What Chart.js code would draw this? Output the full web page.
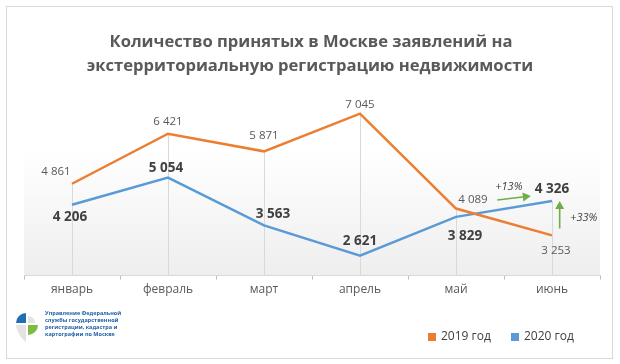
<!DOCTYPE html>
<html>
<head>
<meta charset="utf-8">
<script src="https://cdn.jsdelivr.net/npm/chart.js@4.4.0/dist/chart.umd.min.js"></script>
<style>
  html, body { margin: 0; padding: 0; background: #fff; }
  #wrap { width: 620px; height: 364px; }
</style>
</head>
<body>
<div id="wrap"><canvas id="chart" width="620" height="364"></canvas></div>
<script>
var months = ['январь', 'февраль', 'март', 'апрель', 'май', 'июнь'];
var values2019 = [4861, 6421, 5871, 7045, 4089, 3253];
var values2020 = [4206, 5054, 3563, 2621, 3829, 4326];
var yMin = 2000;
var yMax = 8000;
var titleLines = ['Количество принятых в Москве заявлений на', 'экстерриториальную регистрацию недвижимости'];
var logoLines = ['Управление Федеральной', 'службы государственной', 'регистрации, кадастра и', 'картографии по Москве'];

var orange = '#ED7D31';
var blue = '#5B9BD5';
var green = '#70AD47';
var fontFamily = '"Open Sans", "DejaVu Sans", sans-serif';

// label offsets in px from the point (dx, dy)
var off2019 = [[-16, -12], [0, -12], [0, -16], [0, -9], [17, -9], [4, 15]];
var off2020 = [[-2, 12], [-2, -9], [9, -11], [0, -15], [9, 19], [0, -12]];

function fmt(n) {
    return String(n).replace(/\B(?=(\d{3})+(?!\d))/g, ' ');
}

function arrow(ctx, x1, y1, x2, y2) {
    var a = Math.atan2(y2 - y1, x2 - x1);
    var h = 8;
    ctx.beginPath();
    ctx.moveTo(x1, y1);
    ctx.lineTo(x2 - Math.cos(a) * h * 0.8, y2 - Math.sin(a) * h * 0.8);
    ctx.stroke();
    ctx.beginPath();
    ctx.moveTo(x2, y2);
    ctx.lineTo(x2 - h * Math.cos(a) + 4.5 * Math.sin(a), y2 - h * Math.sin(a) - 4.5 * Math.cos(a));
    ctx.lineTo(x2 - h * Math.cos(a) - 4.5 * Math.sin(a), y2 - h * Math.sin(a) + 4.5 * Math.cos(a));
    ctx.closePath();
    ctx.fill();
}

function wedge(ctx, cx, cy, r, a0, a1, color) {
    ctx.fillStyle = color;
    ctx.beginPath();
    ctx.moveTo(cx, cy);
    ctx.arc(cx, cy, r, a0, a1);
    ctx.closePath();
    ctx.fill();
}

var decor = {
    id: 'decor',
    beforeDraw: function(chart) {
        var ctx = chart.ctx;
        var area = chart.chartArea;
        ctx.save();
        ctx.fillStyle = '#fff';
        ctx.fillRect(0, 0, chart.width, chart.height);
        // outer frame
        ctx.strokeStyle = '#d9d9d9';
        ctx.lineWidth = 1;
        ctx.strokeRect(6.5, 6.5, 606, 352);
        // plot background
        var g = ctx.createLinearGradient(0, area.top, 0, area.bottom);
        g.addColorStop(0, '#ffffff');
        g.addColorStop(0.35, '#ffffff');
        g.addColorStop(1, '#eeeeee');
        ctx.fillStyle = g;
        ctx.fillRect(area.left, area.top, area.right - area.left, area.bottom - area.top);
        // title
        ctx.fillStyle = '#595959';
        ctx.font = 'bold 16.6px ' + fontFamily;
        ctx.textAlign = 'center';
        ctx.textBaseline = 'middle';
        ctx.fillText(titleLines[0], 311, 42);
        ctx.fillText(titleLines[1], 310, 66);
        ctx.restore();
    },
    beforeDatasetsDraw: function(chart) {
        // drop lines
        var ctx = chart.ctx;
        var x = chart.scales.x, y = chart.scales.y;
        ctx.save();
        ctx.strokeStyle = '#d9d9d9';
        ctx.lineWidth = 1;
        for (var i = 0; i < months.length; i++) {
            var px = Math.round(x.getPixelForValue(i)) + 0.5;
            var top = y.getPixelForValue(Math.max(values2019[i], values2020[i]));
            ctx.beginPath();
            ctx.moveTo(px, top);
            ctx.lineTo(px, chart.chartArea.bottom);
            ctx.stroke();
        }
        ctx.restore();
    },
    afterDatasetsDraw: function(chart) {
        var ctx = chart.ctx;
        var x = chart.scales.x, y = chart.scales.y;
        ctx.save();
        ctx.textAlign = 'center';
        ctx.textBaseline = 'middle';
        for (var i = 0; i < months.length; i++) {
            var px = x.getPixelForValue(i);
            ctx.fillStyle = '#595959';
            ctx.font = '11.5px ' + fontFamily;
            ctx.fillText(fmt(values2019[i]), px + off2019[i][0], y.getPixelForValue(values2019[i]) + off2019[i][1]);
            ctx.fillStyle = '#404040';
            ctx.font = 'bold 13.5px ' + fontFamily;
            ctx.fillText(fmt(values2020[i]), px + off2020[i][0], y.getPixelForValue(values2020[i]) + off2020[i][1]);
        }
        // growth arrows
        ctx.strokeStyle = green;
        ctx.fillStyle = green;
        ctx.lineWidth = 1.6;
        arrow(ctx, x.getPixelForValue(4.43), y.getPixelForValue(4357), x.getPixelForValue(4.78), y.getPixelForValue(4479));
        arrow(ctx, x.getPixelForValue(5.08), y.getPixelForValue(3469), x.getPixelForValue(5.08), y.getPixelForValue(4326));
        ctx.fillStyle = '#404040';
        ctx.font = 'italic 11px ' + fontFamily;
        ctx.fillText('+13%', x.getPixelForValue(4.55), y.getPixelForValue(4755));
        ctx.fillText('+33%', x.getPixelForValue(5.33), y.getPixelForValue(3806));
        ctx.restore();
    },
    afterDraw: function(chart) {
        var ctx = chart.ctx;
        ctx.save();
        // legend
        ctx.font = '12px ' + fontFamily;
        ctx.textBaseline = 'middle';
        ctx.textAlign = 'left';
        var lx = 428;
        chart.data.datasets.forEach(function(ds) {
            ctx.fillStyle = ds.borderColor;
            ctx.fillRect(lx, 333, 8, 8);
            ctx.fillStyle = '#404040';
            ctx.fillText(ds.label, lx + 13, 337);
            lx += 83;
        });
        // logo
        var cx = 27, cy = 324, r = 10;
        wedge(ctx, cx - 1, cy - 1, r, Math.PI, Math.PI * 1.5, '#1f6fb5');
        wedge(ctx, cx + 1, cy - 1, r * 0.7, Math.PI * 1.5, Math.PI * 2, '#e3e3e3');
        wedge(ctx, cx + 1, cy + 1, r, 0, Math.PI * 0.5, '#7dbb42');
        wedge(ctx, cx - 1, cy + 1, r, Math.PI * 0.5, Math.PI, '#e3e3e3');
        ctx.fillStyle = '#e3e3e3';
        ctx.beginPath();
        ctx.moveTo(cx - 1, cy + 1);
        ctx.lineTo(cx - 1, cy + 18);
        ctx.quadraticCurveTo(cx - 8, cy + 14, cx - 11, cy + 1);
        ctx.closePath();
        ctx.fill();
        ctx.fillStyle = '#1f5fa8';
        ctx.font = 'bold 5.5px ' + fontFamily;
        for (var i = 0; i < logoLines.length; i++) {
            ctx.fillText(logoLines[i], 45, 313 + i * 7);
        }
        ctx.restore();
    }
};

var ctx = document.getElementById('chart').getContext('2d');
var chart = new Chart(ctx, {
    type: 'line',
    data: {
        labels: months,
        datasets: [
            { label: '2019 год', data: values2019, borderColor: orange, backgroundColor: orange, borderWidth: 2.5, pointRadius: 0, tension: 0 },
            { label: '2020 год', data: values2020, borderColor: blue, backgroundColor: blue, borderWidth: 2.5, pointRadius: 0, tension: 0 }
        ]
    },
    options: {
        responsive: false,
        animation: false,
        layout: { padding: { top: 83, left: 24, right: 20, bottom: 64 } },
        plugins: {
            legend: { display: false },
            title: { display: false },
            tooltip: { enabled: false }
        },
        scales: {
            x: {
                offset: true,
                grid: { offset: true, drawOnChartArea: false, drawTicks: true, tickLength: 4, color: '#bfbfbf' },
                border: { display: true, color: '#d9d9d9' },
                ticks: { color: '#595959', font: { family: fontFamily, size: 12 }, padding: 3, maxRotation: 0 }
            },
            y: {
                display: false,
                min: yMin,
                max: yMax
            }
        }
    },
    plugins: [decor]
});
</script>
</body>
</html>
